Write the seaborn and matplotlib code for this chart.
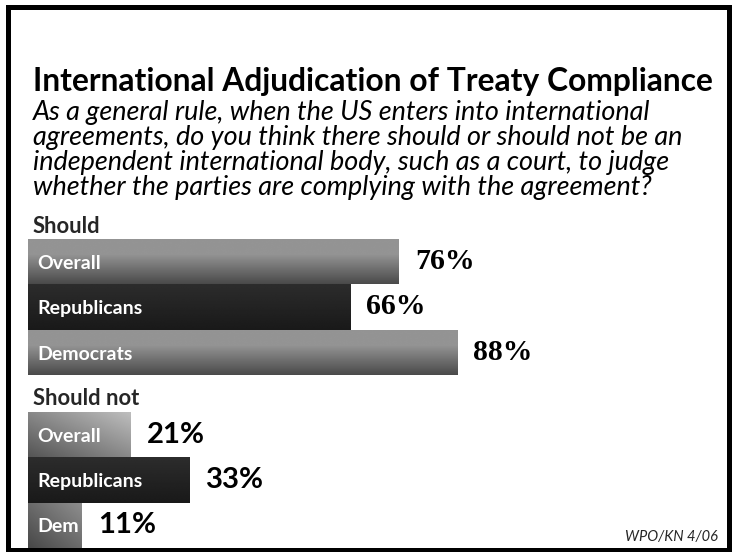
import numpy as np
import pandas as pd
import matplotlib
matplotlib.use("Agg")
import matplotlib.pyplot as plt
import seaborn as sns
from matplotlib.patches import Rectangle

# ---- data -------------------------------------------------------------
title = "International Adjudication of Treaty Compliance"
question = [
    "As a general rule, when the US enters into international",
    "agreements, do you think there should or should not be an",
    "independent international body, such as a court, to judge",
    "whether the parties are complying with the agreement?",
]
source = "WPO/KN 4/06"

should_label = "Should"
should_groups = ["Overall", "Republicans", "Democrats"]
should_values = [76, 66, 88]

should_not_label = "Should not"
should_not_groups = ["Overall", "Republicans", "Dem"]
should_not_values = [21, 33, 11]

# ---- figure -----------------------------------------------------------
sns.set_theme(style="white")
plt.rcParams["font.family"] = ["Lato", "DejaVu Sans"]

W, H = 736, 552
fig = plt.figure(figsize=(W / 100, H / 100), dpi=100)
fig.patch.set_facecolor("white")
renderer = fig.canvas.get_renderer()


def px_box(left, top, right, bottom):
    return [left / W, 1 - bottom / H, (right - left) / W, (bottom - top) / H]


def fit_width(t, target_px):
    w = t.get_window_extent(renderer).width
    t.set_fontsize(t.get_fontsize() * target_px / w)
    return t


def gradient(spec, rows=120, cols=120):
    kind = spec[0]
    r = np.linspace(0, 1, rows)[:, None]
    c = np.linspace(0, 1, cols)[None, :]
    if kind == "v":
        _, top, bottom, flat = spec
        t = np.clip((r - flat) / (1 - flat), 0, 1)
        g = top + (bottom - top) * t
        return np.repeat(g, cols, axis=1)
    _, tr, bl = spec
    u = (r + (1 - c)) / 2
    return tr + (bl - tr) * u


def draw_section(ax, groups, values, shades, pct_kw, pct_width):
    df = pd.DataFrame({"group": groups, "pct": values})
    sns.barplot(data=df, x="pct", y="group", orient="h", width=1.0,
                color="0.5", saturation=1, errorbar=None, ax=ax)
    for patch, spec in zip(ax.patches, shades):
        x0, y0 = patch.get_x(), patch.get_y()
        w, h = patch.get_width(), patch.get_height()
        im = ax.imshow(gradient(spec), cmap="gray", vmin=0, vmax=1,
                       extent=(x0, x0 + w, y0 + h, y0), aspect="auto",
                       interpolation="bilinear", zorder=2)
        im.set_clip_path(patch)
        patch.set_edgecolor("none")
    ax.set_xlim(0, 100)
    ax.set_ylim(len(groups) - 0.5, -0.5)
    ax.axis("off")

    for i, (g, v) in enumerate(zip(groups, values)):
        ax.annotate(g, xy=(0, i), xytext=(9 * 0.72, -1.2),
                    textcoords="offset points", ha="left", va="center",
                    color="white", fontweight="bold", fontsize=14, zorder=3)
        p = ax.annotate(f"{v}%", xy=(v, i), xytext=(16 * 0.72, 0),
                        textcoords="offset points", ha="left", va="center",
                        color="black", fontweight="bold", fontsize=18,
                        zorder=3, **pct_kw)
        fit_width(p, pct_width)


ax_top = fig.add_axes(px_box(28, 239, 516, 375))
ax_bot = fig.add_axes(px_box(28, 412, 516, 548))

top_shades = [("v", 0.58, 0.29, 0.35), ("v", 0.175, 0.10, 0.0),
              ("v", 0.58, 0.29, 0.35)]
bot_shades = [("d", 0.75, 0.33), ("v", 0.175, 0.10, 0.0),
              ("d", 0.56, 0.28)]

draw_section(ax_top, should_groups, should_values, top_shades,
             {"family": ["Liberation Serif", "DejaVu Serif"]}, 60)
draw_section(ax_bot, should_not_groups, should_not_values,
             bot_shades, {}, 58)

# ---- texts ------------------------------------------------------------
t_title = fig.text(33 / W, 1 - 91 / H, title, ha="left", va="baseline",
                   fontweight="bold", fontsize=20, color="black")
fit_width(t_title, 680)

q_texts = []
for k, line in enumerate(question):
    q_texts.append(fig.text(33 / W, 1 - (120 + 25 * k) / H, line, ha="left",
                            va="baseline", style="italic", fontsize=16,
                            color="black"))
fit_width(q_texts[1], 649)
for t in q_texts:
    t.set_fontsize(q_texts[1].get_fontsize())

t_should = fig.text(33 / W, 1 - 233 / H, should_label, ha="left",
                    va="baseline", fontweight="bold", fontsize=14)
fit_width(t_should, 68)
fig.text(33 / W, 1 - 405 / H, should_not_label, ha="left", va="baseline",
         fontweight="bold", fontsize=t_should.get_fontsize())

fig.text(718 / W, 1 - 541 / H, source, ha="right", va="baseline",
         style="italic", fontsize=10.5)

# outer frame
fig.add_artist(Rectangle((8 / W, 1 - 549.5 / H), (728.5 - 8) / W,
                         (549.5 - 7) / H, transform=fig.transFigure,
                         fill=False, lw=5 * 0.72, ec="black",
                         joinstyle="miter", zorder=10))

fig.savefig("out.png", dpi=100, facecolor="white")
